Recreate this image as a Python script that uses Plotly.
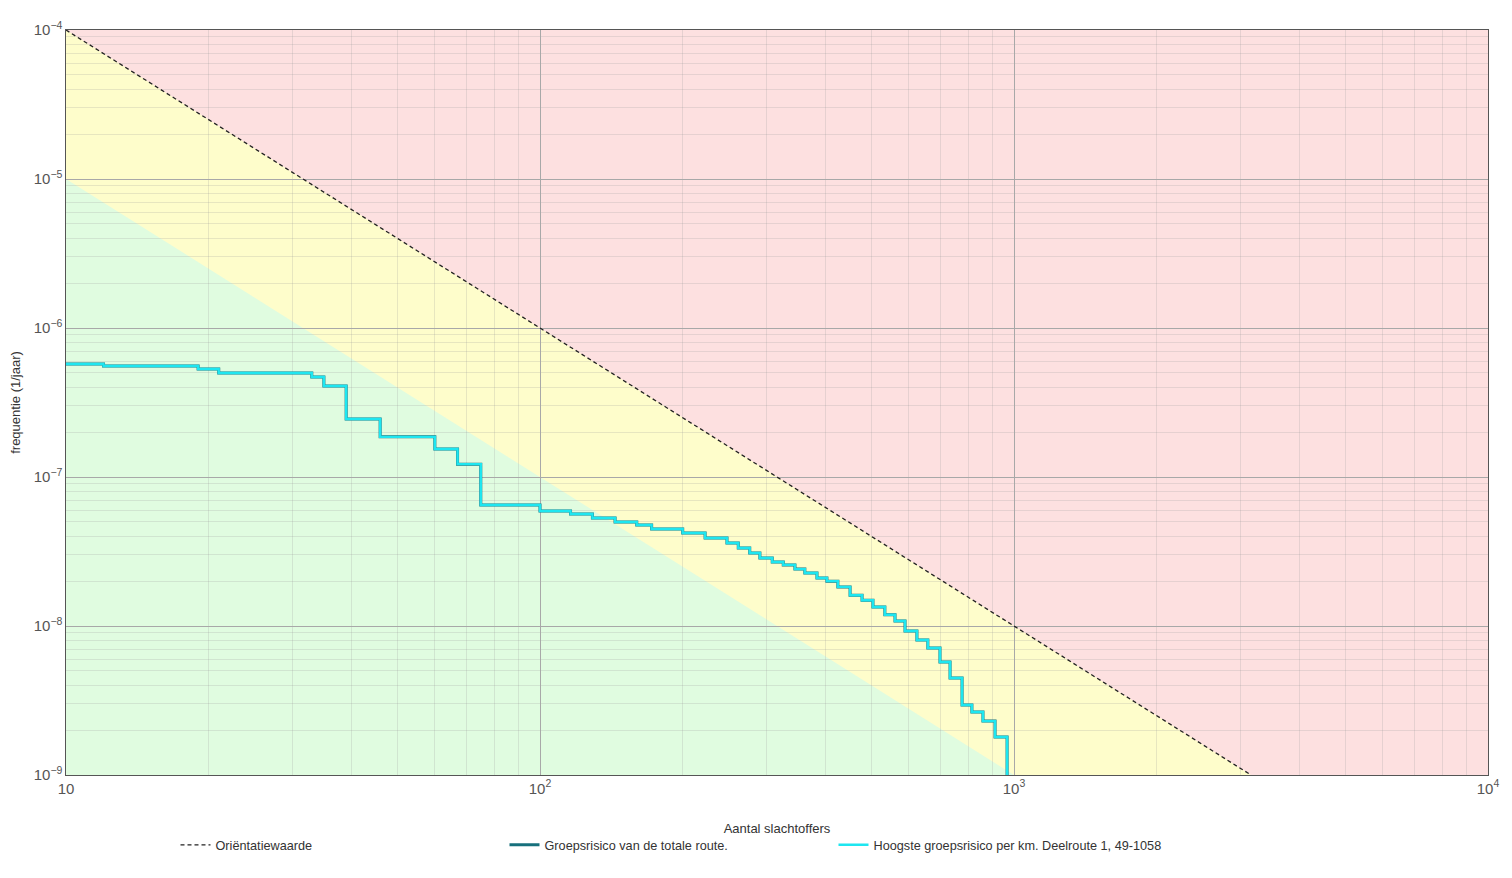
import plotly.graph_objects as go

# ---- data ----
# Groepsrisico (FN-curve) step points: number of victims N and frequency F
gr_N = [10, 12, 19, 21, 33, 35, 39, 46, 60, 67, 75, 100, 116, 129, 144, 160, 172,
        200, 223, 248, 262, 277, 291, 309, 326, 345, 362, 384, 403, 425, 451, 478,
        504, 534, 561, 589, 624, 658, 698, 733, 777, 815, 860, 912, 967]
gr_F = [5.73e-7, 5.56e-7, 5.31e-7, 4.99e-7, 4.69e-7, 4.08e-7, 2.45e-7, 1.86e-7,
        1.54e-7, 1.22e-7, 6.49e-8, 5.91e-8, 5.64e-8, 5.31e-8, 4.99e-8, 4.76e-8,
        4.48e-8, 4.21e-8, 3.90e-8, 3.61e-8, 3.34e-8, 3.09e-8, 2.86e-8, 2.69e-8,
        2.57e-8, 2.41e-8, 2.27e-8, 2.10e-8, 2.00e-8, 1.83e-8, 1.61e-8, 1.49e-8,
        1.34e-8, 1.19e-8, 1.08e-8, 9.26e-9, 8.05e-9, 7.12e-9, 5.73e-9, 4.48e-9,
        2.95e-9, 2.65e-9, 2.30e-9, 1.80e-9, 5e-10]

# Oriëntatiewaarde line (visible part) and the 0.1x boundary of the green zone
orient_N = [10, 3162.28]
orient_F = [1e-4, 1e-9]
green_N = [10, 1000]
green_F = [1e-5, 1e-9]

x_min, x_max = 10, 10000
y_min, y_max = 1e-9, 1e-4

names = ["Oriëntatiewaarde", "Groepsrisico van de totale route.",
         "Hoogste groepsrisico per km. Deelroute 1, 49-1058"]

FONT = "Liberation Sans, Arial"

fig = go.Figure()

fig.add_trace(go.Scatter(x=gr_N, y=gr_F, mode="lines", line_shape="hv",
                         line=dict(color="#17707c", width=3.0), name=names[1],
                         legendrank=2))
fig.add_trace(go.Scatter(x=gr_N, y=gr_F, mode="lines", line_shape="hv",
                         line=dict(color="#1ee6f0", width=2.4), name=names[2],
                         legendrank=3))
fig.add_trace(go.Scatter(x=orient_N, y=orient_F, mode="lines",
                         line=dict(color="#222222", width=1.3, dash="4px,3px"),
                         name=names[0], legendrank=1))

# background zones (shapes on log axes take data values here)
fig.add_shape(type="rect", xref="x", yref="y", x0=x_min, x1=x_max, y0=y_min, y1=y_max,
              fillcolor="#fde0e0", line_width=0, layer="below")
fig.add_shape(type="path", xref="x", yref="y",
              path=f"M {orient_N[0]},{orient_F[0]} L {orient_N[1]},{orient_F[1]} "
                   f"L {x_min},{y_min} Z",
              fillcolor="#fefdcb", line_width=0, layer="below")
fig.add_shape(type="path", xref="x", yref="y",
              path=f"M {green_N[0]},{green_F[0]} L {green_N[1]},{green_F[1]} "
                   f"L {x_min},{y_min} Z",
              fillcolor="#e0fce0", line_width=0, layer="below")

axis_common = dict(
    type="log", dtick=1, exponentformat="power", showexponent="all",
    showgrid=True, gridcolor="#a8a8a8", gridwidth=1,
    minor=dict(dtick="D1", showgrid=True, gridcolor="rgba(150,150,150,0.22)",
               gridwidth=1, ticks=""),
    showline=True, linecolor="#555555", linewidth=1.3, mirror=True,
    ticks="", zeroline=False, automargin=False,
    tickfont=dict(family=FONT, size=12, color="#555555"),
)

fig.update_xaxes(**axis_common, range=[1, 4],
                 title=dict(text="Aantal slachtoffers", standoff=28,
                            font=dict(family=FONT, size=13, color="#333333")))
fig.update_yaxes(**axis_common, range=[-9, -4],
                 title=dict(text="frequentie (1/jaar)", standoff=14,
                            font=dict(family=FONT, size=13, color="#333333")))

fig.update_layout(
    width=1512, height=878,
    margin=dict(l=58, r=32, t=22, b=111),
    paper_bgcolor="white", plot_bgcolor="white",
    font=dict(family=FONT, size=12, color="#333333"),
    legend=dict(orientation="h", x=0.077, xanchor="left", y=-0.094, yanchor="middle",
                entrywidth=284, entrywidthmode="pixels",
                font=dict(family=FONT, size=12.7, color="#333333"),
                bgcolor="rgba(0,0,0,0)", itemwidth=30),
    showlegend=True,
)

fig.write_html("out.html")
